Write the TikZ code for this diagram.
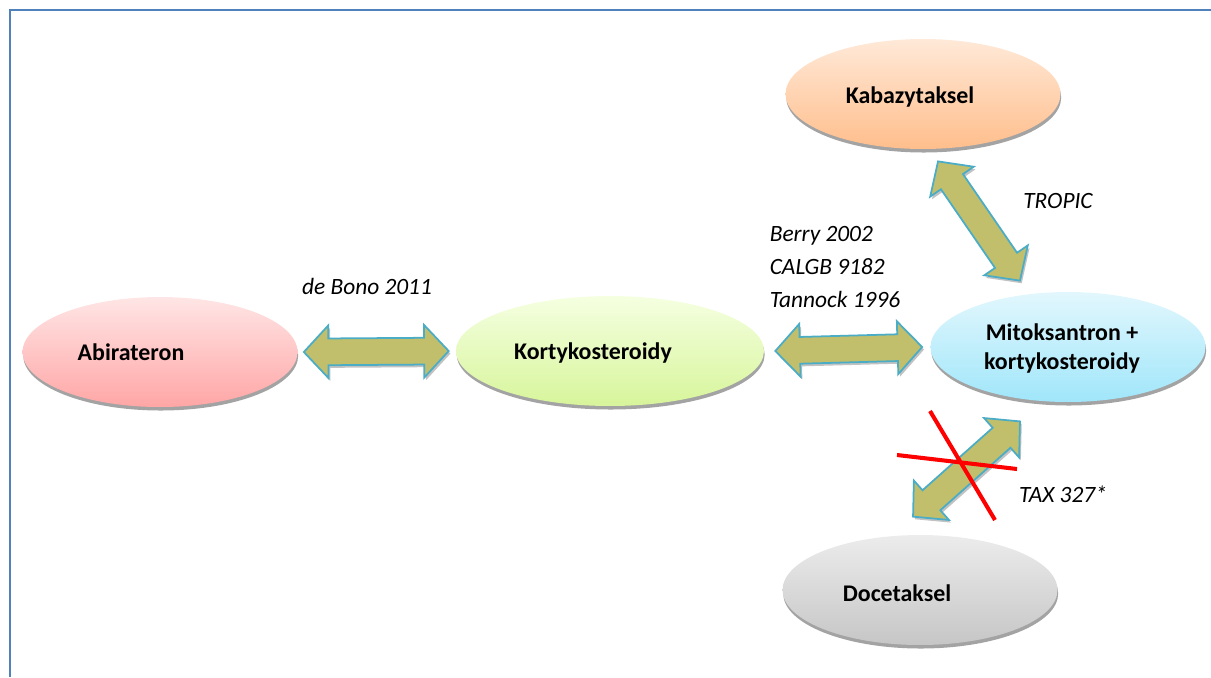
\documentclass[tikz,border=0pt]{standalone}
\usepackage{fontspec}
\setmainfont{Carlito}
\usetikzlibrary{calc, shapes.arrows, shapes.geometric, shadows}
\definecolor{FrameBlue}{HTML}{4F81BD}
\definecolor{ArrOlive}{HTML}{C1BF6B}
\definecolor{ArrEdge}{HTML}{4BACC6}

% fat two-headed arrow between two points: name, from, to
\providecommand{\fatlink}[3]{%
  \path let \p1=($(#3)-(#2)$), \n1={atan2(\y1,\x1)}, \n2={veclen(\x1,\y1)} in
    node[fatarr, rotate=\n1, minimum height=\n2] (#1) at ($(#2)!0.5!(#3)$) {};}

\begin{document}
\begin{tikzpicture}[
  x=0.02cm, y=-0.02cm,
  font=\fontsize{13.5}{16.5}\selectfont,
  drug/.style={ellipse, minimum width=5.5cm, minimum height=2.2cm, inner sep=0pt,
               drop shadow={shadow xshift=0.4pt, shadow yshift=-2pt, fill=black!45, opacity=0.8}},
  drugname/.style={font=\fontsize{13.6}{16.5}\selectfont\bfseries},
  fatarr/.style={double arrow, draw=ArrEdge, fill=ArrOlive, line width=1pt,
                 double arrow head extend=0.26cm, double arrow tip angle=94,
                 inner xsep=0pt, inner ysep=0.25cm,
                 drop shadow={shadow xshift=1pt, shadow yshift=-1.5pt, fill=black!40, opacity=0.6}},
  trial/.style={font=\fontsize{13.3}{18.8}\selectfont\itshape, align=left},
  nogo/.style={draw=red, line width=2.3pt}
]
\useasboundingbox (0,0) rectangle (1211,677);
\draw[FrameBlue, line width=1.2pt] (10,677) -- (10,10) -- (1211,10);

\node[drug, top color=red!10, bottom color=red!35!white,
      label={[shift={(-29,0)}, drugname]center:Abirateron}]
  (abi) at (160,352) {};
\node[drug, minimum width=6.16cm, top color={rgb,255:red,245;green,255;blue,225},
      bottom color={rgb,255:red,215;green,245;blue,155},
      label={[shift={(-17,2)}, drugname]center:Kortykosteroidy}]
  (kort) at (610,351) {};
\node[drug, top color={rgb,255:red,226;green,247;blue,253},
      bottom color={rgb,255:red,160;green,230;blue,250},
      label={[shift={(-6,1)}, align=center, drugname]center:Mitoksantron +\\kortykosteroidy}]
  (mito) at (1068,347) {};
\node[drug, top color={rgb,255:red,255;green,233;blue,216},
      bottom color={rgb,255:red,255;green,190;blue,140},
      label={[shift={(-13,3)}, drugname]center:Kabazytaksel}]
  (kab) at (923,94) {};
\node[drug, top color={rgb,255:red,236;green,236;blue,236},
      bottom color={rgb,255:red,198;green,198;blue,198},
      label={[shift={(-23,3)}, drugname]center:Docetaksel}]
  (doc) at (920,590) {};

% connectors
\fatlink{a1}{[shift={(6,0)}]abi.east}{[shift={(-7,0)}]kort.west}
\fatlink{a2}{[shift={(11,0)}]kort.east}{[shift={(-8,0)}]mito.west}
\fatlink{a3}{[shift={(15,12)}]kab.south}{[shift={(-48,-11)}]mito.north}
\fatlink{a4}{[shift={(-48,19)}]mito.south}{[shift={(-7,-18)}]doc.north}

% trial names
\node[trial] (bono) at (367,286) {de Bono 2011};
\node[trial] (berry) at (835,267) {Berry 2002\\CALGB 9182\\Tannock 1996};
\node[trial] (tropic) at (1058,201) {TROPIC};
\node[trial] (tax) at (1063,494) {TAX 327*};

% crossed out
\draw[nogo] (897,455) -- (1017,469);
\draw[nogo] (930,411) -- (995,520);
\end{tikzpicture}
\end{document}
